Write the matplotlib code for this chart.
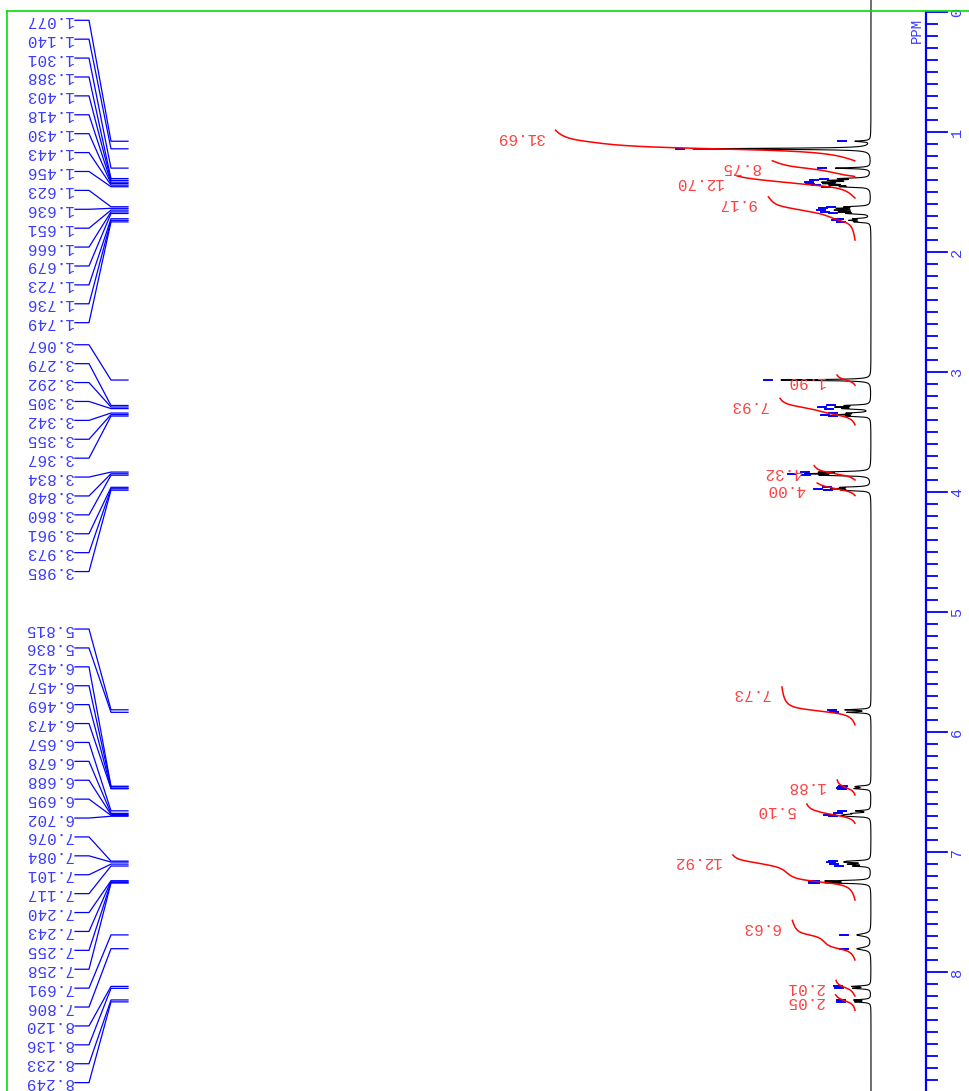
import numpy as np
import matplotlib.pyplot as plt

# picked peaks (ppm) and their heights / half widths on the plot scale
peak_ppm = [1.077, 1.140, 1.301, 1.388, 1.403, 1.418, 1.430, 1.443, 1.456,
            1.623, 1.636, 1.651, 1.666, 1.679, 1.723, 1.736, 1.749,
            3.067, 3.279, 3.292, 3.305, 3.342, 3.355, 3.367,
            3.834, 3.848, 3.860, 3.961, 3.973, 3.985,
            5.815, 5.836, 6.452, 6.457, 6.469, 6.473,
            6.657, 6.678, 6.688, 6.695, 6.702,
            7.076, 7.084, 7.101, 7.117, 7.240, 7.243, 7.255, 7.258,
            7.691, 7.806, 8.120, 8.136, 8.233, 8.249]
peak_height = [15, 178, 35, 28, 35, 38, 36, 32, 25,
               22, 28, 30, 26, 20, 15, 18, 14,
               90, 22, 30, 24, 20, 27, 20,
               45, 55, 42, 25, 33, 24,
               25, 23, 9, 9, 9, 9,
               14, 14, 16, 18, 16,
               18, 20, 20, 16, 21, 24, 24, 21,
               14, 14, 18, 17, 16, 15]
peak_width = [0.005] * len(peak_ppm)
peak_width[peak_ppm.index(7.691)] = 0.012
peak_width[peak_ppm.index(7.806)] = 0.012

# integrals: region start / end (ppm) and value
int_start = [0.985, 1.24, 1.36, 1.54, 3.025, 3.22, 3.78, 3.925,
             5.625, 6.40, 6.60, 7.025, 7.57, 8.07, 8.19]
int_end = [1.24, 1.37, 1.55, 1.90, 3.11, 3.44, 3.90, 4.03,
           5.94, 6.525, 6.76, 7.40, 7.90, 8.20, 8.32]
int_value = [31.69, 8.75, 12.70, 9.17, 1.90, 7.93, 4.32, 4.00,
             7.73, 1.88, 5.10, 12.92, 6.63, 2.01, 2.05]

label_group_start = [0.069, 2.773, 5.142]
label_group_limit = [2.0, 5.0, 9.0]

BLUE = '#0000ff'
RED = '#ff0000'
FONT = 'Liberation Mono'

ppm = np.arange(-0.1, 9.0, 0.0005)


def lorentz(x, centres, heights, widths):
    s = np.zeros_like(x)
    for c, h, w in zip(centres, heights, widths):
        s += h * w ** 2 / ((x - c) ** 2 + w ** 2)
    return s


spec = lorentz(ppm, peak_ppm, peak_height, peak_width)

fig = plt.figure(figsize=(9.7, 10.91), dpi=100)
ax = fig.add_axes([0, 0, 1, 1])
ax.axis('off')
ax.set_xlim(871, -99)
ax.set_ylim(8.9917, -0.1)

# spectrum
ax.plot(spec, ppm, color='black', lw=0.8)

# peak-pick markers next to each apex
for p in peak_ppm:
    top = lorentz(np.array([p]), peak_ppm, peak_height, peak_width)[0]
    ax.plot([top + 9, top + 17], [p, p], color=BLUE, lw=1.4)

# integral curves
BASE = 16
SCALE = 9.45
for a, b, v in zip(int_start, int_end, int_value):
    seg = np.linspace(a, b, 400)
    s = lorentz(seg, peak_ppm, peak_height, [0.02] * len(peak_ppm))
    cum = np.cumsum(s[::-1])[::-1]
    frac = cum / cum[0]
    ax.plot(BASE + SCALE * v * frac, seg, color=RED, lw=1.1)
    ax.text(BASE + SCALE * v + 12, a + 0.058, f'{v:.2f}', rotation=180,
            ha='right', va='center', color='#ff4040', fontsize=11.5,
            family=FONT)

# peak labels with connectors
step = 18.9 / 120
lo = -1
for start, hi in zip(label_group_start, label_group_limit):
    grp = [p for p in peak_ppm if lo < p <= hi]
    lo = hi
    for i, p in enumerate(grp):
        yl = start + i * step
        ax.plot([796, 782, 760, 743], [yl, yl, p, p], color=BLUE, lw=0.9)
        ax.text(798, yl, f'{p:.3f}', rotation=180, ha='right', va='center',
                color='#3a3aff', fontsize=11.5, family=FONT)

# ppm scale
ax.plot([-55, -55], [0, 9.0], color=BLUE, lw=1.6)
for t in np.arange(0, 90) / 10:
    major = abs(t - round(t)) < 1e-9
    ax.plot([-55, -76 if major else -66], [t, t], color=BLUE, lw=1.3)
for t in range(0, 9):
    ax.text(-86, t, str(t), rotation=90, ha='center', va='center',
            color='#3a3aff', fontsize=11, family=FONT)
ax.text(-46, 0.15, 'PPM', rotation=90, ha='center', va='center',
        color='#3a3aff', fontsize=10, family=FONT)

# green frame
fy = 1 - 11 / 1091
fx = 7 / 970
fig.add_artist(plt.Line2D([fx, 1], [fy, fy], color='#00e000', lw=1.2,
                          transform=fig.transFigure))
fig.add_artist(plt.Line2D([fx, fx], [0, fy], color='#00e000', lw=1.2,
                          transform=fig.transFigure))

fig.savefig('out.png', dpi=100)
